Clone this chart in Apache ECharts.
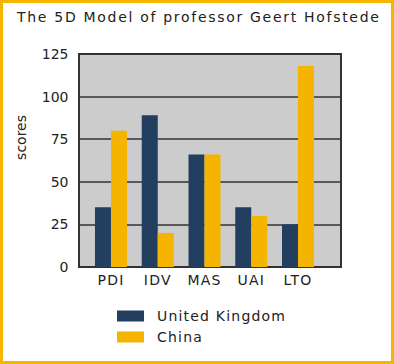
<!DOCTYPE html>
<html><head><meta charset="utf-8">
<script src="https://cdn.jsdelivr.net/npm/echarts@6/dist/echarts.min.js"></script>
<style>
html,body{margin:0;padding:0;background:#fff;}
#c{position:absolute;left:0;top:0;width:394px;height:364px;}
#c text[style*="xls"]{letter-spacing:1.2px;}
#c text[style*="xlt"]{letter-spacing:1.7px;}
#b{position:absolute;left:0;top:0;width:394px;height:364px;box-sizing:border-box;border:3px solid #F5B400;pointer-events:none;}
</style></head>
<body><div id="c"></div><div id="b"></div>
<script>
const categories = ['PDI','IDV','MAS','UAI','LTO'];
const ukValues = [35, 89, 66, 35, 25];
const chinaValues = [80, 20, 66, 30, 118];
const yTicks = [0, 25, 50, 75, 100, 125];
const FONT = 'DejaVu Sans';
const SFONT = 'DejaVu Sans, xls';
const TFONT = 'DejaVu Sans, xlt';
const chart = echarts.init(document.getElementById('c'), null, {renderer:'svg'});
chart.setOption({
  animation:false,
  title:{text:'The 5D Model of professor Geert Hofstede',left:17,top:10,padding:0,
    textStyle:{fontFamily:TFONT,fontSize:14,fontWeight:'normal',color:'#222'}},
  graphic:[{type:'text',left:14,top:115,rotation:Math.PI/2,
    style:{text:'scores',font:'14px "DejaVu Sans"',fill:'#222'}}],
  legend:{orient:'vertical',left:117,top:309,padding:0,itemWidth:27,itemHeight:11,itemGap:7,
    icon:'rect',textStyle:{fontFamily:SFONT,fontSize:14,color:'#222',padding:[0,0,0,8]},
    data:['United Kingdom','China']},
  grid:[
    {left:79,right:53,top:54,bottom:97,show:true,backgroundColor:'#CCCCCC',borderColor:'#333',borderWidth:2},
    {left:87.6,right:72.6,top:54,bottom:97}
  ],
  xAxis:[
    {gridIndex:0,type:'category',data:categories,show:false},
    {gridIndex:1,type:'category',data:categories,axisLine:{show:false},axisTick:{show:false},
     axisLabel:{fontFamily:SFONT,fontSize:14,color:'#222',margin:6}}
  ],
  yAxis:[
    {gridIndex:0,type:'value',min:yTicks[0],max:yTicks[yTicks.length-1],interval:25,
     axisLine:{show:true,lineStyle:{color:'#333',width:2}},axisTick:{show:false},
     splitLine:{lineStyle:{color:'#333',width:1.5}},
     axisLabel:{fontFamily:FONT,fontSize:14,color:'#222',margin:10.5}},
    {gridIndex:1,type:'value',min:yTicks[0],max:yTicks[yTicks.length-1],show:false,splitLine:{show:false}}
  ],
  series:[
    {name:'United Kingdom',type:'bar',xAxisIndex:1,yAxisIndex:1,data:ukValues,barWidth:16,barGap:'0%',
     itemStyle:{color:'#233F5F'}},
    {name:'China',type:'bar',xAxisIndex:1,yAxisIndex:1,data:chinaValues,barWidth:16,barGap:'0%',
     itemStyle:{color:'#F5B400'}}
  ]
});
</script></body></html>
